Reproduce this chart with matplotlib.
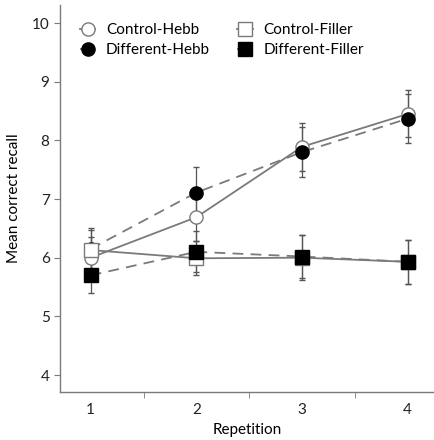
import numpy as np
import matplotlib
matplotlib.use('Agg')
import matplotlib.pyplot as plt
from matplotlib.ticker import FixedLocator

plt.rcParams['font.family'] = ['Lato', 'DejaVu Sans']

#- data
repetition = [1, 2, 3, 4]
control_hebb = [6.00, 6.69, 7.89, 8.45]
control_hebb_err = [0.35, 0.40, 0.41, 0.40]
different_hebb = [6.15, 7.11, 7.80, 8.37]
different_hebb_err = [0.35, 0.43, 0.43, 0.42]
control_filler = [6.13, 5.99, 6.00, 5.93]
control_filler_err = [0.35, 0.29, 0.38, 0.38]
different_filler = [5.70, 6.10, 6.02, 5.93]
different_filler_err = [0.30, 0.35, 0.36, 0.38]

line_col = '#7a7a7a'

fig = plt.figure(figsize=(4.35, 4.4), dpi=100)
ax = fig.add_axes([0.138, 0.109, 0.86, 0.88])

def draw(y, err, marker, face, ls, label):
    ax.errorbar(repetition, y, yerr=err, color=line_col, ls=ls, lw=1.3,
                marker=marker, ms=9.5, mfc=face, mec='black' if face == 'black' else line_col,
                mew=1.0, ecolor='#555555', elinewidth=0.9, capsize=2.5, capthick=0.9,
                label=label, dashes=(6, 4) if ls == '--' else (None, None))

draw(control_hebb, control_hebb_err, 'o', 'white', '-', 'Control-Hebb')
draw(different_hebb, different_hebb_err, 'o', 'black', '--', 'Different-Hebb')
draw(control_filler, control_filler_err, 's', 'white', '-', 'Control-Filler')
draw(different_filler, different_filler_err, 's', 'black', '--', 'Different-Filler')

ax.set_xlim(0.71, 4.25)
ax.set_ylim(3.71, 10.31)
ax.set_yticks([4, 5, 6, 7, 8, 9, 10])
ax.set_xticks(repetition)
ax.xaxis.set_minor_locator(FixedLocator([1.5, 2.5, 3.5]))
ax.tick_params(axis='x', which='major', length=0, pad=8, labelsize=11)
ax.tick_params(axis='x', which='minor', length=4, color=line_col, direction='out')
ax.tick_params(axis='y', length=4, color=line_col, labelsize=11, labelcolor='#222222')
ax.tick_params(axis='x', labelcolor='#222222')

for s in ['top', 'right']:
    ax.spines[s].set_visible(False)
for s in ['left', 'bottom']:
    ax.spines[s].set_color(line_col)
    ax.spines[s].set_linewidth(1.0)

ax.set_xlabel('Repetition', fontsize=11, labelpad=4)
ax.set_ylabel('Mean correct recall', fontsize=11, labelpad=8)

h, l = ax.get_legend_handles_labels()
# drop the error bar parts from the legend handles
h = [hh[0] for hh in h]
ax.legend(h, l, loc='upper left', ncol=2, frameon=False, fontsize=11,
          handlelength=1.0, handletextpad=0.7, columnspacing=1.8,
          labelspacing=0.4, borderaxespad=0.0, bbox_to_anchor=(0.037, 0.969))

fig.savefig('out.png', dpi=100)
